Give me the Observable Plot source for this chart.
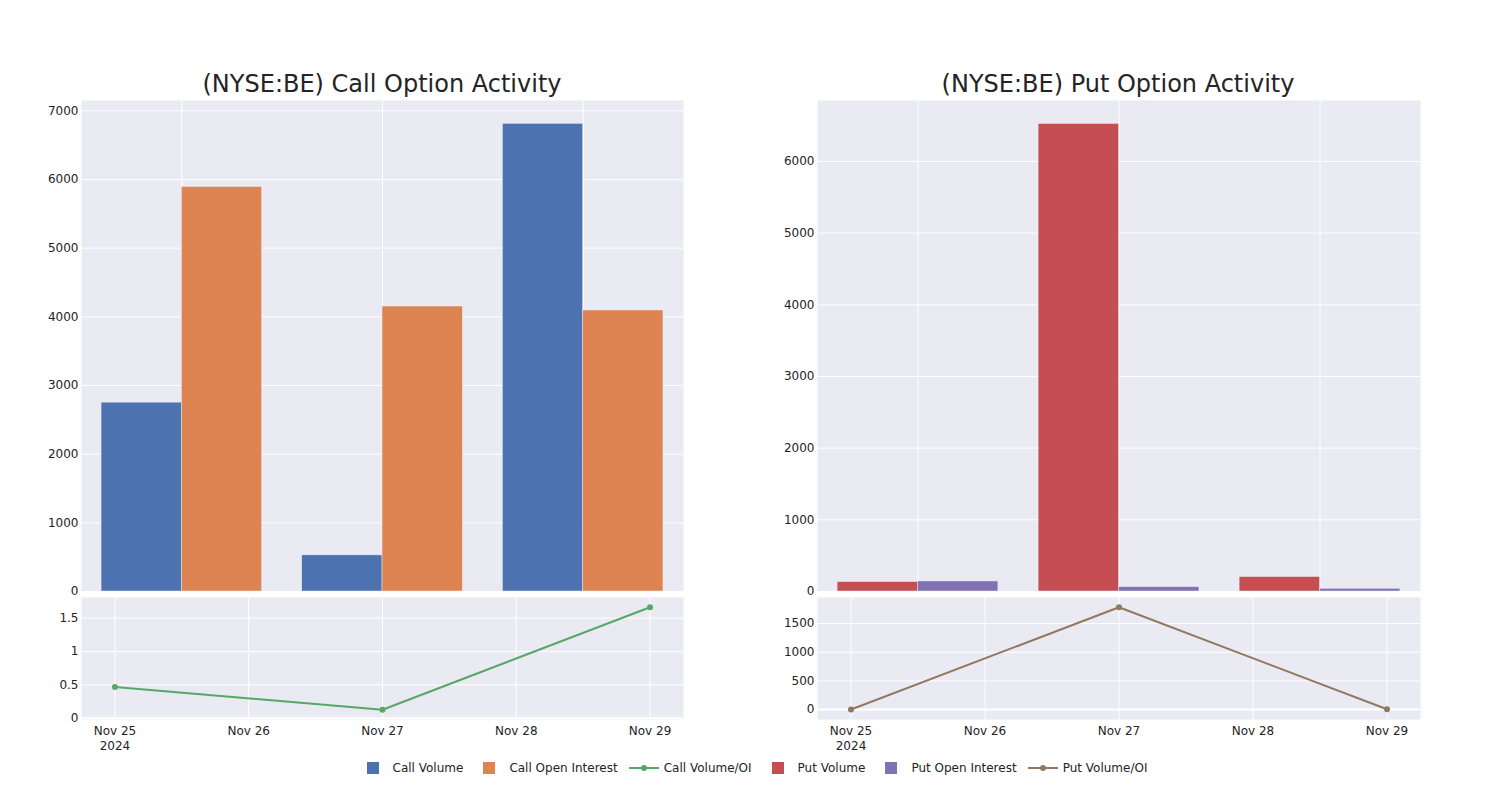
<!DOCTYPE html>
<html>
<head>
<meta charset="utf-8">
<script src="https://cdn.jsdelivr.net/npm/d3@7"></script>
<script src="https://cdn.jsdelivr.net/npm/@observablehq/plot@0.6"></script>
<style>
  html, body { margin: 0; padding: 0; background: #fff; }
  #root { position: relative; width: 1500px; height: 800px; font-family: "DejaVu Sans", sans-serif; color: rgb(36,36,36); }
  .panel { position: absolute; }
  .title { position: absolute; font-size: 24px; text-align: center; white-space: nowrap; transform: translateX(-50%); line-height: 1; }
  #legend { position: absolute; top: 760px; left: 0; width: 1500px; display: flex; justify-content: center; align-items: center; font-size: 12px; height: 16px; gap: 6px; }
  .item { display: flex; align-items: center; }
  .sym { width: 40px; height: 16px; display: flex; justify-content: center; align-items: center; }
</style>
</head>
<body>
<div id="root"></div>
<script>
// ---- data ----
const barDates = ["2024-11-25", "2024-11-27", "2024-11-29"];
const callVolume = [2750, 526, 6810];
const callOpenInterest = [5890, 4150, 4092];
const callVolumeOI = [0.467, 0.127, 1.664];
const putVolume = [131, 6523, 202];
const putOpenInterest = [140, 61, 38];
const putVolumeOI = [0.94, 1785, 5.3];
const axisDays = ["2024-11-25", "2024-11-26", "2024-11-27", "2024-11-28", "2024-11-29"];
const callBarTicks = [0, 1000, 2000, 3000, 4000, 5000, 6000, 7000];
const putBarTicks = [0, 1000, 2000, 3000, 4000, 5000, 6000];
const callRatioTicks = [0, 0.5, 1, 1.5];
const putRatioTicks = [0, 500, 1000, 1500];
const seriesNames = ["Call Volume", "Call Open Interest", "Call Volume/OI", "Put Volume", "Put Open Interest", "Put Volume/OI"];
const titles = ["(NYSE:BE) Call Option Activity", "(NYSE:BE) Put Option Activity"];

// ---- style ----
const COLORS = ["rgb(76,114,176)", "rgb(221,132,82)", "rgb(85,168,104)", "rgb(196,78,82)", "rgb(129,114,179)", "rgb(147,120,96)"];
const BG = "rgb(234,234,242)";
const TXT = "rgb(36,36,36)";
const DAY = 864e5;
const toDate = s => new Date(s + "T00:00:00Z");
const dates = barDates.map(toDate);
const days = axisDays.map(toDate);

const callRows = dates.map((d, i) => ({date: d, vol: callVolume[i], oi: callOpenInterest[i], ratio: callVolumeOI[i]}));
const putRows = dates.map((d, i) => ({date: d, vol: putVolume[i], oi: putOpenInterest[i], ratio: putVolumeOI[i]}));

const style = {fontFamily: "DejaVu Sans, sans-serif", fontSize: "12px", color: TXT, background: "transparent", overflow: "visible"};
const fmtNum = d => String(d);
const fmtDay = (d, i) => {
  const s = d3.utcFormat("%b %-d")(d);
  return i === 0 ? s + "\n" + d3.utcFormat("%Y")(d) : s;
};

const root = document.getElementById("root");
function place(el, left, top) {
  el.classList.add("panel");
  el.style.left = left + "px";
  el.style.top = top + "px";
  root.appendChild(el);
}

function barPanel(rows, yMax, ticks, c1, c2, ml, mr) {
  return Plot.plot({
    width: 700, height: 600,
    marginLeft: ml, marginRight: mr, marginTop: 100, marginBottom: 9,
    style,
    x: {type: "utc", domain: [toDate("2024-11-24"), toDate("2024-11-30")], axis: null},
    y: {domain: [0, yMax], axis: null},
    marks: [
      Plot.frame({fill: BG, stroke: null}),
      Plot.gridY({ticks: ticks, stroke: "white", strokeOpacity: 1, strokeWidth: 1}),
      Plot.gridX({ticks: dates, stroke: "white", strokeOpacity: 1, strokeWidth: 1}),
      Plot.axisY({ticks: ticks, tickSize: 0, tickPadding: 3, tickFormat: fmtNum, fill: TXT, label: null}),
      Plot.rectY(rows, {x1: d => new Date(+d.date - 0.8 * DAY), x2: "date", y: "vol", fill: c1, stroke: BG, strokeWidth: 0.5}),
      Plot.rectY(rows, {x1: "date", x2: d => new Date(+d.date + 0.8 * DAY), y: "oi", fill: c2, stroke: BG, strokeWidth: 0.5})
    ]
  });
}

function linePanel(rows, yDomain, ticks, color, ml, mr) {
  return Plot.plot({
    width: 700, height: 170,
    marginLeft: ml, marginRight: mr, marginTop: 7, marginBottom: 41,
    style,
    x: {type: "utc", domain: [new Date(+days[0] - 0.25 * DAY), new Date(+days[4] + 0.25 * DAY)], axis: null},
    y: {domain: yDomain, axis: null},
    marks: [
      Plot.frame({fill: BG, stroke: null}),
      Plot.gridY({ticks: ticks, stroke: "white", strokeOpacity: 1, strokeWidth: 1}),
      Plot.ruleY([0], {stroke: "white", strokeWidth: 2}),
      Plot.gridX({ticks: days, stroke: "white", strokeOpacity: 1, strokeWidth: 1}),
      Plot.axisY({ticks: ticks, tickSize: 0, tickPadding: 3, tickFormat: fmtNum, fill: TXT, label: null}),
      Plot.axisX({ticks: days, tickSize: 0, tickPadding: 4, tickFormat: fmtDay, lineHeight: 1.3, fill: TXT, label: null}),
      Plot.line(rows, {x: "date", y: "ratio", stroke: color, strokeWidth: 2}),
      Plot.dot(rows, {x: "date", y: "ratio", fill: color, r: 3})
    ]
  });
}

place(barPanel(callRows, 7150, callBarTicks, COLORS[0], COLORS[1], 81, 17), 0, 0);
place(linePanel(callRows, [-0.02, 1.81], callRatioTicks, COLORS[2], 81, 17), 0, 590);
place(barPanel(putRows, 6850, putBarTicks, COLORS[3], COLORS[4], 77, 20), 740, 0);
place(linePanel(putRows, [-173, 1955], putRatioTicks, COLORS[5], 77, 20), 740, 590);

// titles
[[titles[0], 382], [titles[1], 1118]].forEach(([t, cx]) => {
  const div = document.createElement("div");
  div.className = "title";
  div.textContent = t;
  div.style.left = cx + "px";
  div.style.top = "72px";
  root.appendChild(div);
});

// legend
const legend = document.createElement("div");
legend.id = "legend";
const kinds = ["bar", "bar", "line", "bar", "bar", "line"];
seriesNames.forEach((name, i) => {
  const item = document.createElement("div");
  item.className = "item";
  const sym = document.createElement("div");
  sym.className = "sym";
  const ns = "http://www.w3.org/2000/svg";
  const svg = document.createElementNS(ns, "svg");
  svg.setAttribute("width", "40");
  svg.setAttribute("height", "16");
  if (kinds[i] === "bar") {
    const r = document.createElementNS(ns, "rect");
    r.setAttribute("x", "14"); r.setAttribute("y", "2");
    r.setAttribute("width", "12"); r.setAttribute("height", "12");
    r.setAttribute("fill", COLORS[i]);
    svg.appendChild(r);
  } else {
    const l = document.createElementNS(ns, "line");
    l.setAttribute("x1", "5"); l.setAttribute("x2", "35");
    l.setAttribute("y1", "8"); l.setAttribute("y2", "8");
    l.setAttribute("stroke", COLORS[i]); l.setAttribute("stroke-width", "2");
    svg.appendChild(l);
    const c = document.createElementNS(ns, "circle");
    c.setAttribute("cx", "20"); c.setAttribute("cy", "8"); c.setAttribute("r", "3");
    c.setAttribute("fill", COLORS[i]);
    svg.appendChild(c);
  }
  sym.appendChild(svg);
  const txt = document.createElement("span");
  txt.textContent = name;
  item.appendChild(sym);
  item.appendChild(txt);
  legend.appendChild(item);
});
root.appendChild(legend);
</script>
</body>
</html>
